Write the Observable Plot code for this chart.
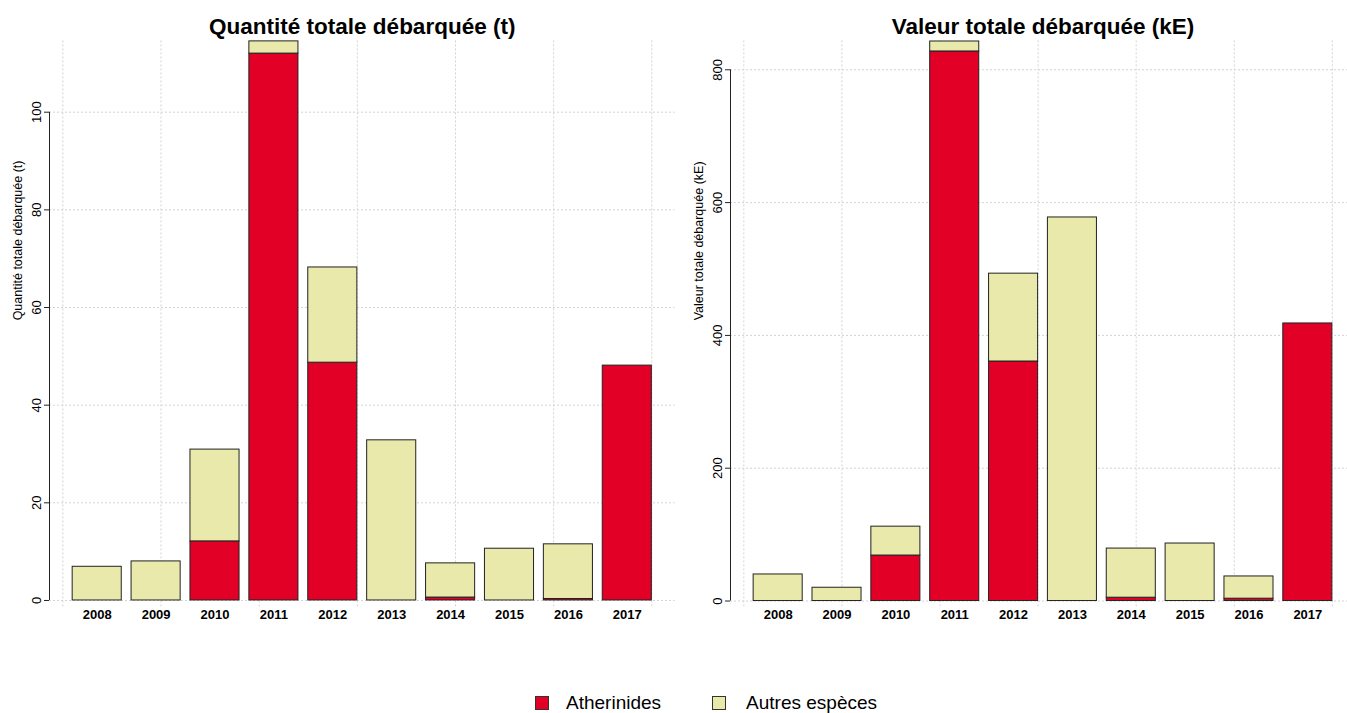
<!DOCTYPE html>
<html><head><meta charset="utf-8">
<script src="https://cdn.jsdelivr.net/npm/d3@7"></script>
<script src="https://cdn.jsdelivr.net/npm/@observablehq/plot@0.6"></script>
<style>
html,body{margin:0;padding:0;overflow:hidden;background:#fff;}
#root{position:relative;width:1347px;height:713px;overflow:hidden;font-family:"Liberation Sans",Arial,sans-serif;}
.panel{position:absolute;top:0;}
#legend{position:absolute;top:692px;left:535px;display:flex;align-items:center;font-size:19px;color:#000;line-height:22px;}
.item{display:flex;align-items:center;}
.sw{width:12px;height:12px;border:1px solid #333;display:inline-block;}
</style></head><body><div id="root"></div>
<script>
const years = [2008, 2009, 2010, 2011, 2012, 2013, 2014, 2015, 2016, 2017];
const series = ["Atherinides", "Autres espèces"];
const colors = ["#E20026", "#E8E9AA"];
// Quantité totale débarquée (t)
const qteAtherinides = [0, 0, 12.1, 112.0, 48.7, 0, 0.6, 0, 0.3, 48.1];
const qteAutres      = [6.9, 8.0, 18.8, 2.5, 19.5, 32.8, 7.0, 10.6, 11.2, 0];
// Valeur totale débarquée (kE)
const valAtherinides = [0, 0, 68.5, 827.6, 360.7, 0, 5, 0, 3.5, 418];
const valAutres      = [40, 20, 43.5, 15, 132.3, 577.6, 74, 86.6, 33.5, 0];
const qteTicks = [0, 20, 40, 60, 80, 100];
const valTicks = [0, 200, 400, 600, 800];
const titles = ["Quantité totale débarquée (t)", "Valeur totale débarquée (kE)"];
const yLabels = ["Quantité totale débarquée (t)", "Valeur totale débarquée (kE)"];

// barplot layout (R defaults: width 1, space 0.2, 4% axis extension)
const barWidth = 1, barSpace = 0.2;
const xl = barSpace, xr = years.length * (barWidth + barSpace);
const ext = (xr - xl) * 0.04;
const xDomain = [xl - ext, xr + ext];
const xGrid = d3.ticks(xDomain[0], xDomain[1], 5);
const font = '"Liberation Sans", Arial, sans-serif';
const gridStyle = {stroke: "#d3d3d3", strokeOpacity: 1, strokeDasharray: "2,2", strokeWidth: 1};

function panel({ath, aut, ticks, yDomain, title, ylabel, marginLeft, marginRight}) {
  const rows = [];
  years.forEach((yr, i) => {
    const x1 = barSpace + i * (barWidth + barSpace), x2 = x1 + barWidth;
    rows.push({year: yr, serie: series[0], x1, x2, y1: 0, y2: ath[i]});
    rows.push({year: yr, serie: series[1], x1, x2, y1: ath[i], y2: ath[i] + aut[i]});
  });
  const centers = years.map((yr, i) => ({year: yr, x: barSpace + i * (barWidth + barSpace) + barWidth / 2}));
  return Plot.plot({
    width: 680, height: 640,
    marginLeft, marginRight, marginTop: 40.4, marginBottom: 32.7,
    x: {type: "linear", domain: xDomain, axis: null},
    y: {domain: yDomain, axis: null},
    color: {domain: series, range: colors},
    style: {fontFamily: font, fontSize: "13px", color: "#000", background: "transparent"},
    marks: [
      Plot.gridX(xGrid, gridStyle),
      Plot.gridY(ticks, gridStyle),
      Plot.rectY(rows, {x1: "x1", x2: "x2", y1: "y1", y2: "y2", fill: "serie", stroke: "#222", strokeWidth: 1}),
      Plot.ruleX([xDomain[0]], {y1: ticks[0], y2: ticks[ticks.length - 1], stroke: "#222"}),
      Plot.axisY(ticks, {tickSize: 5, tickPadding: 4, tickRotate: -90, tickFormat: d => String(d), stroke: "#222", fontSize: 13}),
      Plot.text(centers, {x: "x", text: d => String(d.year), frameAnchor: "bottom", dy: 11, fontSize: 13, fontWeight: "bold"}),
      Plot.text([ylabel], {text: d => d, frameAnchor: "left", dx: -32, dy: -4, rotate: -90, fontSize: 12.5}),
      Plot.text([title], {text: d => d, frameAnchor: "top", dy: -7.4, lineAnchor: "bottom", fontSize: 22.5, fontWeight: "bold"})
    ]
  });
}

const root = document.getElementById("root");
const left = panel({ath: qteAtherinides, aut: qteAutres, ticks: qteTicks, yDomain: [-1.5, 114.6],
  title: titles[0], ylabel: yLabels[0], marginLeft: 49, marginRight: 5.5});
left.classList.add("panel"); left.style.left = "0px";
root.appendChild(left);
const right = panel({ath: valAtherinides, aut: valAutres, ticks: valTicks, yDomain: [-10.2, 843.5],
  title: titles[1], ylabel: yLabels[1], marginLeft: 50, marginRight: 5});
right.classList.add("panel"); right.style.left = "680px";
root.appendChild(right);

const legend = document.createElement("div");
legend.id = "legend";
series.forEach((s, i) => {
  const item = document.createElement("div");
  item.className = "item";
  item.style.marginRight = i === 0 ? "51px" : "0";
  const sw = document.createElement("span");
  sw.className = "sw";
  sw.style.background = colors[i];
  sw.style.marginRight = i === 0 ? "17px" : "20px";
  const t = document.createElement("span");
  t.textContent = s;
  item.appendChild(sw); item.appendChild(t);
  legend.appendChild(item);
});
root.appendChild(legend);
</script></body></html>
